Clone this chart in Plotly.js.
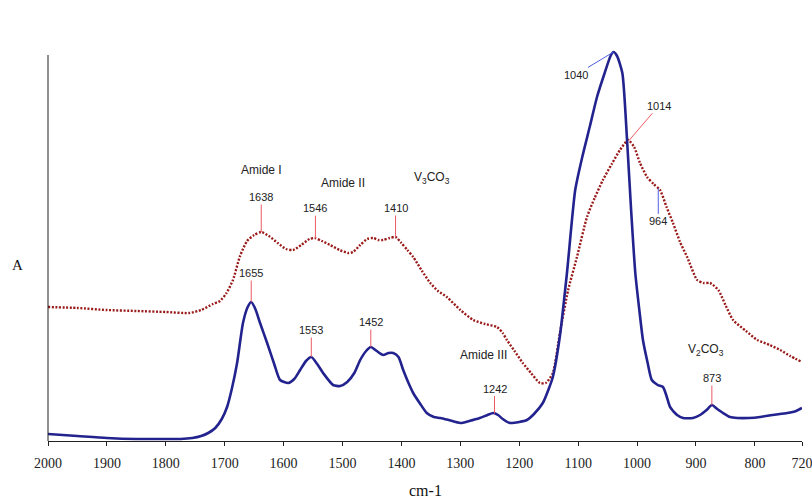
<!DOCTYPE html>
<html>
<head>
<meta charset="utf-8">
<script src="https://cdn.plot.ly/plotly-3.0.1.min.js"></script>
<style>html,body{margin:0;padding:0;background:#fff;}#chart{width:812px;height:498px;}</style>
</head>
<body>
<div id="chart"></div>
<script>
// Wavenumbers (cm-1) and absorbance (arbitrary units) for the lower (solid blue) spectrum
const blueWn = [2000,1950,1900,1850,1800,1775,1755,1740,1728,1716,1705,1696,1688,1679,1669,1661,1655,1648,1640,1628,1616,1606,1592,1582,1572,1562,1553,1543,1533,1516,1504,1492,1480,1470,1460,1452,1442,1431,1422,1414,1405,1397,1388,1380,1368,1357,1345,1334,1320,1300,1285,1267,1254,1244,1236,1228,1216,1200,1187,1175,1160,1150,1143,1131,1119,1105,1093,1080,1068,1055,1045,1040,1034,1025,1017,1010,1003,995,990,982,975,965,956,950,944,932,922,905,893,882,873,864,854,842,830,810,791,770,745,730,720];
const blueA  = [7,5,3,2,2,2,3,5,8,13,22,34,52,78,118,134,139,132,118,98,77,61,58,62,71,80,84,77,68,56,55,59,68,81,90,94,90,86,88,88,84,71,58,48,37,28,24,23,21,18,20,23,26,28,26,22,18,19,21,27,38,52,64,105,168,251,284,315,344,368,385,389,385,368,301,230,168,125,101,78,61,56,54,45,34,26,23,23,26,31,36,32,28,24,23,23,24,26,28,30,33];

// Upper (dotted red) spectrum
const redWn = [2000,1950,1900,1850,1800,1760,1740,1720,1708,1697,1686,1674,1662,1650,1638,1625,1610,1596,1584,1570,1556,1547,1535,1521,1505,1490,1482,1470,1458,1448,1439,1431,1420,1410,1400,1390,1380,1365,1351,1338,1323,1300,1278,1258,1238,1228,1221,1208,1194,1180,1165,1155,1143,1131,1117,1102,1085,1072,1058,1043,1029,1015,1005,995,983,972,961,950,939,927,915,898,887,876,862,850,837,815,796,775,757,740,720];
const redA  = [134,133,131,130,129,128,131,137,140,148,161,185,200,206,209,205,198,192,191,196,202,203,200,196,191,188,189,196,202,203,201,201,203,204,198,191,184,170,158,150,144,131,121,117,114,108,101,90,78,68,58,58,68,108,151,184,224,243,261,277,291,301,294,278,264,257,251,234,218,199,184,161,158,158,151,136,121,110,101,96,91,85,79];

// Axis ticks
const tickVals = [2000,1900,1800,1700,1600,1500,1400,1300,1200,1100,1000,900,800,720];
const tickText = ["2000","1900","1800","1700","1600","1500","1400","1300","1200","1100","1000","900","800","720"];

// Peak labels: wavenumber, which spectrum, label text
const peakWn     = [1638,1546,1410,1655,1553,1452,1242,873,1040,1014,964];
const peakSeries = ["red","red","red","blue","blue","blue","blue","blue","blue","red","red"];
const peakText   = ["1638","1546","1410","1655","1553","1452","1242","873","1040","1014","964"];
const peakLine   = ["red","red","red","red","red","red","red","red","blue","red","blue"];

// Band names: text and position (wavenumber, absorbance units)
const bandText = ["Amide I","Amide II","V<sub>3</sub>CO<sub>3</sub>","v<sub>1</sub>v<sub>3</sub> PO<sub>4</sub>","Amide III","V<sub>2</sub>CO<sub>3</sub>"];
const bandWn   = [1637,1499,1348,1076,1260,883];
const bandA    = [271,258,263,421,86,91];

// leader offsets (pixels) for each peak label
const offAx = [0,0,0,0,0,0,0,0,-38,30,0];
const offAy = [-35,-30,-29,-29,-27,-25,-25,-27,23,-35,33];

function interp(xs, ys, x){
  for (let i=0;i<xs.length-1;i++){
    const a=xs[i], b=xs[i+1];
    if ((x<=a && x>=b) || (x>=a && x<=b)){
      const t = (x-a)/(b-a);
      return ys[i] + t*(ys[i+1]-ys[i]);
    }
  }
  return ys[ys.length-1];
}

const yMax = 392;
const blueCol = "#23238f";
const redCol = "#9a1a1a";
const leadRed = "#ec5a64";
const leadBlue = "#5060e0";

const traces = [
  {x: redWn, y: redA, mode: "lines", line: {color: redCol, width: 2.4, dash: "2px,1.6px", shape: "spline", smoothing: 0.6}, hoverinfo: "skip"},
  {x: blueWn, y: blueA, mode: "lines", line: {color: blueCol, width: 2.6, shape: "spline", smoothing: 0.6}, hoverinfo: "skip"}
];

const anns = [];
for (let i=0;i<peakWn.length;i++){
  const s = peakSeries[i]==="red" ? [redWn, redA] : [blueWn, blueA];
  anns.push({
    x: peakWn[i], y: interp(s[0], s[1], peakWn[i]), xref: "x", yref: "y",
    text: peakText[i], showarrow: true, arrowhead: 0, arrowwidth: 1,
    arrowcolor: peakLine[i]==="red" ? leadRed : leadBlue,
    ax: offAx[i], ay: offAy[i], standoff: 0, startstandoff: 0,
    font: {family: "Liberation Sans, Arial, sans-serif", size: 11, color: "#222"}
  });
}
for (let i=0;i<bandText.length;i++){
  anns.push({x: bandWn[i], y: bandA[i], xref: "x", yref: "y", text: bandText[i], showarrow: false,
    xanchor: "center", yanchor: "middle",
    font: {family: "Liberation Sans, Arial, sans-serif", size: 12, color: "#222"}});
}
anns.push({x: 0.5, y: -0.125, xref: "paper", yref: "paper", text: "cm-1", showarrow: false,
  xanchor: "center", yanchor: "middle",
  font: {family: "Liberation Serif, Times New Roman, serif", size: 16, color: "#111"}});
anns.push({x: -0.04, y: 0.449, xref: "paper", yref: "paper", text: "A", showarrow: false,
  xanchor: "center", yanchor: "middle",
  font: {family: "Liberation Serif, Times New Roman, serif", size: 15, color: "#111"}});

const layout = {
  width: 812, height: 498,
  margin: {l: 48, r: 10, t: 49, b: 57},
  paper_bgcolor: "#fff", plot_bgcolor: "#fff",
  showlegend: false,
  xaxis: {
    range: [2000, 720], tickvals: tickVals, ticktext: tickText,
    showgrid: false, zeroline: false, showline: true, linecolor: "#222", linewidth: 1,
    ticks: "outside", ticklen: 4, tickcolor: "#222", ticklabelstandoff: 5,
    ticklabeloverflow: "allow",
    tickfont: {family: "Liberation Serif, Times New Roman, serif", size: 14, color: "#222"}
  },
  yaxis: {range: [0, yMax], showgrid: false, zeroline: false, showline: false, showticklabels: false, ticks: ""},
  shapes: [{type: "line", xref: "paper", yref: "paper", x0: 0, x1: 0, y0: 0, y1: 386/yMax, line: {color: "#222", width: 1}}],
  annotations: anns
};

Plotly.newPlot("chart", traces, layout, {staticPlot: true, displayModeBar: false});
</script>
</body>
</html>
